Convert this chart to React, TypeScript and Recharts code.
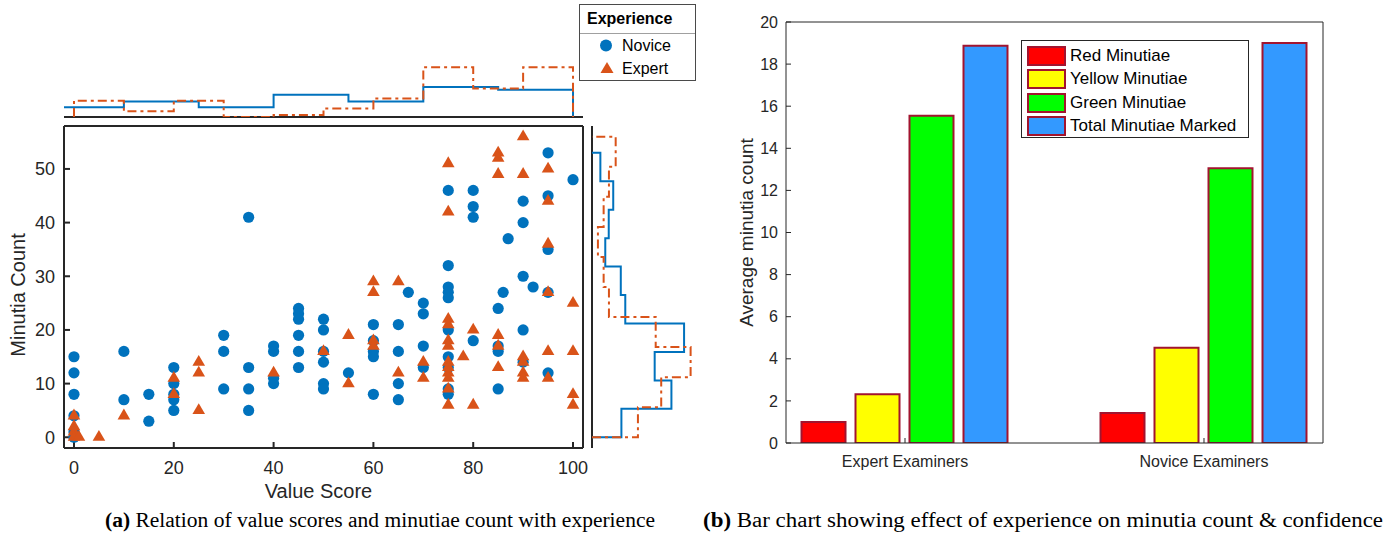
import { ScatterChart, Scatter, XAxis, YAxis, Legend, ComposedChart, Bar, Line } from 'recharts'

const FONT = '"Liberation Sans", Arial, Helvetica, sans-serif'
const INK = '#262626'
const BLUE = '#0072BD'
const ORANGE = '#D95319'
const DASHDOT = '9 4 3 4'

// ---- (a) scatter: value score vs minutia count ----
const valueTicks = [0, 20, 40, 60, 80, 100]
const countTicks = [0, 10, 20, 30, 40, 50]

const noviceScore = [
  0, 0, 0, 0, 0, 0, 10, 10, 15, 15, 20, 20, 20, 20, 20, 30, 30, 30, 35, 35, 35, 35,
  40, 40, 40, 40, 45, 45, 45, 45, 45, 45, 50, 50, 50, 50, 50, 50, 55, 60, 60, 60, 60, 60,
  65, 65, 65, 65, 67, 70, 70, 70, 70, 75, 75, 75, 75, 75, 75, 75, 75, 75, 75,
  80, 80, 80, 80, 85, 85, 85, 85, 86, 87, 90, 90, 90, 90, 90, 92, 95, 95, 95, 95, 95, 100,
]
const noviceCount = [
  15, 12, 8, 4, 1, 0, 16, 7, 8, 3, 13, 10, 8, 7, 5, 19, 16, 9, 41, 13, 9, 5,
  17, 16, 11, 10, 24, 23, 22, 19, 16, 13, 22, 20, 16, 14, 10, 9, 12, 21, 18, 16, 15, 8,
  21, 16, 10, 7, 27, 25, 23, 17, 13, 46, 32, 28, 27, 26, 20, 15, 13, 9, 8,
  46, 43, 41, 18, 24, 17, 16, 9, 27, 37, 44, 40, 30, 20, 14, 28, 53, 45, 35, 27, 12, 48,
]
const expertScore = [
  0, 0, 0, 0, 1, 5, 10, 20, 20, 25, 25, 25, 40, 50, 55, 55, 60, 60, 60, 60, 65, 65, 70, 70,
  75, 75, 75, 75, 75, 75, 75, 75, 75, 75, 75, 75, 78, 80, 80,
  85, 85, 85, 85, 85, 85, 90, 90, 90, 90, 90, 90, 95, 95, 95, 95, 95, 95, 100, 100, 100, 100,
]
const expertCount = [
  4, 2, 1, 0, 0, 0, 4, 11, 8, 14, 12, 5, 12, 16, 19, 10, 29, 27, 18, 17, 29, 12, 14, 11,
  51, 42, 22, 21, 18, 17, 14, 13, 12, 11, 9, 6, 15, 20, 6,
  53, 52, 49, 19, 17, 13, 56, 49, 15, 14, 12, 11, 50, 44, 36, 27, 16, 11, 25, 16, 8, 6,
]
const experienceNames = ['Novice', 'Expert']

// marginal histograms (probability density)
const topNoviceEdges = [-5, 10, 25, 40, 55, 70, 85, 100]
const topNovicePdf = [0.005, 0.0079, 0.005, 0.0114, 0.0079, 0.0154, 0.014]
const topExpertEdges = [0, 10, 20, 30, 40, 50, 60, 70, 80, 90, 100]
const topExpertPdf = [0.0083, 0.003, 0.0083, 0, 0.001, 0.0044, 0.0095, 0.0255, 0.0146, 0.0255]

const sideNoviceEdges = [0, 5.3, 10.6, 15.9, 21.2, 26.5, 31.8, 37.1, 42.4, 47.7, 53]
const sideNovicePdf = [0.0144, 0.0389, 0.0307, 0.0451, 0.0163, 0.0141, 0.0065, 0.0082, 0.0104, 0.0041]
const sideExpertEdges = [0, 5.6, 11.2, 16.8, 22.4, 28, 33.6, 39.2, 44.8, 50.4, 56]
const sideExpertPdf = [0.0225, 0.0339, 0.0483, 0.0312, 0.0083, 0.0057, 0.0029, 0.0057, 0.0083, 0.0116]

// ---- (b) bar chart ----
const groups = ['Expert Examiners', 'Novice Examiners']
const redMinutiae = [1.0, 1.42]
const yellowMinutiae = [2.32, 4.53]
const greenMinutiae = [15.55, 13.05]
const totalMinutiae = [18.87, 19.0]
const avgTicks = [0, 2, 4, 6, 8, 10, 12, 14, 16, 18, 20]
const minutiaeNames = ['Red Minutiae', 'Yellow Minutiae', 'Green Minutiae', 'Total Minutiae Marked']
const minutiaeColors = ['#FF0000', '#FFFF00', '#00FF00', '#3399FF']
const minutiaeKeys = ['red', 'yellow', 'green', 'total']

const noviceData = noviceScore.map((x, i) => ({ x, y: noviceCount[i] }))
const expertData = expertScore.map((x, i) => ({ x, y: expertCount[i] }))

// stairs running along the value axis (top histogram)
function stairsX(edges: number[], pdf: number[]) {
  const n = pdf.length
  return [
    { x: edges[0], y: 0 },
    ...pdf.map((d, i) => ({ x: edges[i], y: d })),
    { x: edges[n], y: pdf[n - 1] },
    { x: edges[n], y: 0 },
  ]
}
// stairs running along the count axis (side histogram)
function stairsY(edges: number[], pdf: number[]) {
  const n = pdf.length
  return [{ x: 0, y: edges[0] }, ...pdf.map((d, i) => ({ x: d, y: edges[i + 1] })), { x: 0, y: edges[n] }]
}

const barData = groups.map((group, i) => ({
  pos: i + 1,
  group,
  red: redMinutiae[i],
  yellow: yellowMinutiae[i],
  green: greenMinutiae[i],
  total: totalMinutiae[i],
}))

const noMarker = () => <g />

function NoviceDot(p: any) {
  return <circle cx={p.cx} cy={p.cy} r={5.6} fill={BLUE} />
}
function ExpertTri(p: any) {
  const { cx, cy } = p
  return <polygon points={`${cx},${cy - 7.2} ${cx - 6.3},${cy + 3.6} ${cx + 6.3},${cy + 3.6}`} fill={ORANGE} />
}

function ExperienceLegend() {
  return (
    <div style={{ width: 117, height: 77, border: '1px solid #4a4a4a', boxSizing: 'border-box', background: '#fff', fontFamily: FONT, color: '#000' }}>
      <div style={{ height: 28, borderBottom: '1px solid #a0a0a0', fontWeight: 'bold', fontSize: 16, lineHeight: '28px', paddingLeft: 7 }}>
        Experience
      </div>
      {experienceNames.map((name, i) => (
        <div key={name} style={{ height: 23, display: 'flex', alignItems: 'center', fontSize: 16 }}>
          <svg width={42} height={23}>
            {i === 1 ? (
              <polygon points="27,5 20.5,16 33.5,16" fill={ORANGE} />
            ) : (
              <circle cx={26} cy={11.5} r={6} fill={BLUE} />
            )}
          </svg>
          <span>{name}</span>
        </div>
      ))}
    </div>
  )
}

function MinutiaeLegend() {
  return (
    <div style={{ width: 228, height: 98, border: '1px solid #262626', boxSizing: 'border-box', background: '#fff', fontFamily: FONT, color: '#000', paddingTop: 3 }}>
      {minutiaeNames.map((name, i) => (
        <div key={name} style={{ height: 23.5, display: 'flex', alignItems: 'center', fontSize: 17 }}>
          <div style={{ width: 35, height: 16, marginLeft: 5, marginRight: 4, background: minutiaeColors[i], border: '2px solid #A2142F' }} />
          <span>{name}</span>
        </div>
      ))}
    </div>
  )
}

const tickStyle = { fontSize: 18, fill: INK, fontFamily: FONT }
const frame = { stroke: INK, strokeWidth: 2 }
const thinFrame = { stroke: INK, strokeWidth: 1 }

export default function App() {
  return (
    <div style={{ position: 'absolute', left: 0, top: 0, width: 1396, height: 533, background: '#fff', fontFamily: FONT }}>
      {/* top marginal histogram */}
      <div style={{ position: 'absolute', left: 0, top: 0 }}>
        <ScatterChart width={700} height={125} margin={{ top: 60, right: 117, bottom: 7, left: 64 }}>
          <XAxis type="number" dataKey="x" domain={[-2, 102]} allowDataOverflow height={1} tick={false} tickLine={false} axisLine={frame} />
          <YAxis type="number" dataKey="y" domain={[0, 0.0292]} allowDataOverflow hide />
          <Scatter data={stairsX(topNoviceEdges, topNovicePdf)} shape={noMarker} line={{ stroke: BLUE, strokeWidth: 2 }} lineJointType="stepAfter" isAnimationActive={false} />
          <Scatter data={stairsX(topExpertEdges, topExpertPdf)} shape={noMarker} line={{ stroke: ORANGE, strokeWidth: 2, strokeDasharray: DASHDOT }} lineJointType="stepAfter" isAnimationActive={false} />
        </ScatterChart>
      </div>

      {/* side marginal histogram */}
      <div style={{ position: 'absolute', left: 580, top: 0 }}>
        <ScatterChart width={120} height={533} margin={{ top: 126, right: 0, bottom: 85, left: 11 }}>
          <XAxis type="number" dataKey="x" domain={[0, 0.0529]} allowDataOverflow hide />
          <YAxis type="number" dataKey="y" domain={[-2, 58]} allowDataOverflow width={1} tick={false} tickLine={false} axisLine={frame} />
          <Scatter data={stairsY(sideNoviceEdges, sideNovicePdf)} shape={noMarker} line={{ stroke: BLUE, strokeWidth: 2 }} lineJointType="stepAfter" isAnimationActive={false} />
          <Scatter data={stairsY(sideExpertEdges, sideExpertPdf)} shape={noMarker} line={{ stroke: ORANGE, strokeWidth: 2, strokeDasharray: DASHDOT }} lineJointType="stepAfter" isAnimationActive={false} />
        </ScatterChart>
      </div>

      {/* main scatter */}
      <div style={{ position: 'absolute', left: 0, top: 0 }}>
        <ScatterChart width={700} height={533} margin={{ top: 125, right: 116, bottom: 30, left: 14 }}>
          <XAxis
            type="number"
            dataKey="x"
            domain={[-2, 102]}
            allowDataOverflow
            ticks={valueTicks}
            interval={0}
            height={55}
            tickSize={-6}
            tickMargin={19}
            tick={tickStyle}
            tickLine={frame}
            axisLine={frame}
            label={{ value: 'Value Score', position: 'insideBottom', offset: 5, dx: -5, style: { fontSize: 20, fill: INK, fontFamily: FONT } }}
          />
          <XAxis xAxisId="top" orientation="top" type="number" dataKey="x" domain={[-2, 102]} allowDataOverflow ticks={valueTicks} interval={0} height={1} tick={false} tickSize={-6} tickLine={frame} axisLine={frame} />
          <YAxis
            type="number"
            dataKey="y"
            domain={[-2, 58]}
            allowDataOverflow
            ticks={countTicks}
            interval={0}
            width={50}
            tickSize={-6}
            tickMargin={15}
            tick={tickStyle}
            tickLine={frame}
            axisLine={frame}
            label={{ value: 'Minutia Count', angle: -90, position: 'insideLeft', offset: 4, dy: 8, style: { textAnchor: 'middle', fontSize: 20, fill: INK, fontFamily: FONT } }}
          />
          <YAxis yAxisId="right" orientation="right" type="number" dataKey="y" domain={[-2, 58]} allowDataOverflow ticks={countTicks} interval={0} width={1} tick={false} tickSize={-6} tickLine={frame} axisLine={frame} />
          <Legend layout="vertical" align="center" verticalAlign="middle" content={ExperienceLegend} wrapperStyle={{ left: 579, top: 4, width: 117, height: 77 }} />
          {/* invisible copy bound to the mirrored top/right axes so they draw the box */}
          <Scatter data={noviceData} xAxisId="top" yAxisId="right" shape={noMarker} legendType="none" isAnimationActive={false} />
          <Scatter name="Novice" data={noviceData} fill={BLUE} shape={NoviceDot} isAnimationActive={false} />
          <Scatter name="Expert" data={expertData} fill={ORANGE} shape={ExpertTri} isAnimationActive={false} />
        </ScatterChart>
      </div>

      {/* (b) bar chart */}
      <div style={{ position: 'absolute', left: 700, top: 0 }}>
        <ComposedChart width={696} height={533} data={barData} margin={{ top: 21, right: 72, bottom: 50, left: 26 }} barGap={10}>
          <XAxis
            type="number"
            dataKey="pos"
            domain={[0.602, 2.398]}
            allowDataOverflow
            ticks={[1, 2]}
            interval={0}
            tickFormatter={(v: number) => groups[v - 1]}
            height={40}
            tickSize={-5}
            tickMargin={18}
            tick={{ fontSize: 16, fill: INK, fontFamily: FONT }}
            tickLine={thinFrame}
            axisLine={thinFrame}
          />
          <XAxis xAxisId="top" orientation="top" type="number" dataKey="pos" domain={[0.602, 2.398]} allowDataOverflow ticks={[1, 2]} interval={0} height={1} tick={false} tickSize={-5} tickLine={thinFrame} axisLine={thinFrame} />
          <YAxis
            type="number"
            domain={[0, 20]}
            allowDataOverflow
            ticks={avgTicks}
            interval={0}
            width={60}
            tickSize={-5}
            tickMargin={13}
            tick={{ fontSize: 16, fill: INK, fontFamily: FONT }}
            tickLine={thinFrame}
            axisLine={thinFrame}
            label={{ value: 'Average minutia count', angle: -90, position: 'insideLeft', offset: 20, style: { textAnchor: 'middle', fontSize: 19, fill: INK, fontFamily: FONT } }}
          />
          <YAxis yAxisId="right" orientation="right" type="number" domain={[0, 20]} allowDataOverflow ticks={avgTicks} interval={0} width={1} tick={false} tickSize={-5} tickLine={thinFrame} axisLine={thinFrame} />
          <Legend layout="vertical" align="center" verticalAlign="middle" content={MinutiaeLegend} wrapperStyle={{ left: 321, top: 40, width: 228, height: 98 }} />
          {minutiaeKeys.map((k, i) => (
            <Bar key={k} dataKey={k} name={minutiaeNames[i]} fill={minutiaeColors[i]} stroke="#A2142F" strokeWidth={2} barSize={44} isAnimationActive={false} />
          ))}
          {/* invisible series bound to the mirrored top/right axes */}
          <Line dataKey="total" xAxisId="top" yAxisId="right" stroke="none" dot={false} activeDot={false} legendType="none" isAnimationActive={false} />
        </ComposedChart>
      </div>

      {/* captions */}
      <svg width={1396} height={33} style={{ position: 'absolute', left: 0, top: 500 }}>
        <text x={105} y={27} textLength={550} lengthAdjust="spacingAndGlyphs" fontFamily='"Liberation Serif", "DejaVu Serif", serif' fontSize={20} fill="#000">
          <tspan fontWeight="bold">(a)</tspan> Relation of value scores and minutiae count with experience
        </text>
        <text x={703} y={27} textLength={680} lengthAdjust="spacingAndGlyphs" fontFamily='"Liberation Serif", "DejaVu Serif", serif' fontSize={20} fill="#000">
          <tspan fontWeight="bold">(b)</tspan> Bar chart showing effect of experience on minutia count &amp; confidence
        </text>
      </svg>
    </div>
  )
}
